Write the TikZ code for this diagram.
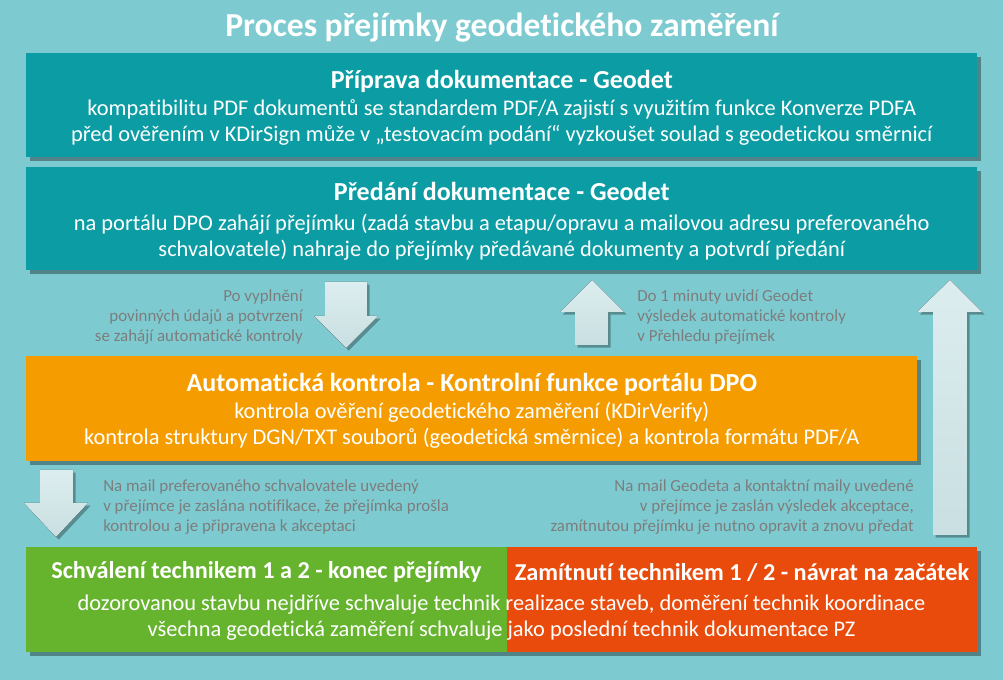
\documentclass[tikz,border=0pt]{standalone}
\usepackage{fontspec}
\setmainfont{Carlito}[Ligatures=NoCommon]
\usetikzlibrary{shadows}
\definecolor{bgc}{HTML}{7DCBD1}
\definecolor{tealc}{HTML}{0C9CA4}
\definecolor{orangec}{HTML}{F59D00}
\definecolor{greenc}{HTML}{66B32E}
\definecolor{redc}{HTML}{E84B0B}
\definecolor{grayc}{HTML}{7D7D7D}
\definecolor{arrtop}{HTML}{DCEDEF}
\definecolor{arrbot}{HTML}{C9DFE1}
\newcommand{\boxtitlefont}{\fontsize{19.5}{22}\selectfont\bfseries}
\tikzset{
  boxsh/.style={drop shadow={shadow xshift=2.5pt,shadow yshift=-2.5pt,opacity=0.35,fill=black}},
  panel/.style={boxsh,inner sep=0pt,anchor=north west},
  boxtext/.style={inner sep=0pt,text=white,align=center,font=\fontsize{16.8}{19.5}\selectfont},
  note/.style={text=grayc,font=\fontsize{12.7}{15}\selectfont,inner sep=0pt},
  blockarrow/.style={top color=arrtop,bottom color=arrbot,draw=none,
     drop shadow={shadow xshift=2pt,shadow yshift=-2pt,opacity=0.3,fill=black}},
}
\begin{document}
\begin{tikzpicture}[x=0.75pt,y=-0.75pt]
\fill[bgc] (0,0) rectangle (1003,680);
\useasboundingbox (0,0) rectangle (1003,680);

\node[text=white,font=\fontsize{25.2}{28}\selectfont\bfseries,inner sep=0pt] (title) at (502,27.5) {Proces přejímky geodetického zaměření};

\node[panel,fill=tealc,minimum width=951*0.75pt,minimum height=104*0.75pt] (prep) at (26,53) {};
\node[boxtext] (preptext) at ([yshift=-2.2pt]prep.center)
 {{\boxtitlefont Příprava dokumentace - Geodet}\\[0.75pt]
  kompatibilitu PDF dokumentů se standardem PDF/A zajistí s využitím funkce Konverze PDFA\\
  před ověřením v KDirSign může v „testovacím podání“ vyzkoušet soulad s geodetickou směrnicí};

\node[panel,fill=tealc,minimum width=951*0.75pt,minimum height=103*0.75pt] (pred) at (26,167) {};
\node[boxtext] (predtext) at ([yshift=-1.6pt]pred.center)
 {{\boxtitlefont Předání dokumentace - Geodet}\\[3pt]
  na portálu DPO zahájí přejímku (zadá stavbu a etapu/opravu a mailovou adresu preferovaného\\
  schvalovatele) nahraje do přejímky předávané dokumenty a potvrdí předání};

\node[panel,fill=orangec,minimum width=891*0.75pt,minimum height=105*0.75pt] (auto) at (26,356) {};
\node[boxtext] (autotext) at ([yshift=-1.5pt]auto.center)
 {{\boxtitlefont Automatická kontrola - Kontrolní funkce portálu DPO}\\[0.75pt]
  kontrola ověření geodetického zaměření (KDirVerify)\\
  kontrola struktury DGN/TXT souborů (geodetická směrnice) a kontrola formátu PDF/A};

\node[panel,fill=greenc,minimum width=481*0.75pt,minimum height=105*0.75pt] (ok) at (26,547) {};
\node[panel,fill=redc,minimum width=470*0.75pt,minimum height=105*0.75pt] (rej) at (507,547) {};
\node[text=white,font=\fontsize{18.2}{21}\selectfont\bfseries,inner sep=0pt] (oktitle) at (266.5,572.5) {Schválení technikem 1 a 2 - konec přejímky};
\node[text=white,font=\fontsize{18.2}{21}\selectfont\bfseries,inner sep=0pt] (rejtitle) at (742,572.5) {Zamítnutí technikem 1 / 2 - návrat na začátek};
\node[boxtext] (bottomtext) at (501.5,617.5)
 {dozorovanou stavbu nejdříve schvaluje technik realizace staveb, doměření technik koordinace\\
  všechna geodetická zaměření schvaluje jako poslední technik dokumentace PZ};

% block arrows
\fill[blockarrow] (325,282) -- (367,282) -- (367,316) -- (378,316) -- (346,348) -- (314,316) -- (325,316) -- cycle;
\fill[blockarrow] (575,345) -- (608,345) -- (608,312) -- (624,312) -- (592,280) -- (560,312) -- (575,312) -- cycle;
\fill[blockarrow] (933,535) -- (967,535) -- (967,312) -- (982,312) -- (950,280) -- (917,312) -- (933,312) -- cycle;
\fill[blockarrow] (40,470) -- (73,470) -- (73,503) -- (88,503) -- (56,537) -- (24,503) -- (40,503) -- cycle;

\node[note,align=right,anchor=east] (n1) at (303,317)
 {Po vyplnění\\povinných údajů a potvrzení\\se zahájí automatické kontroly};
\node[note,align=left,anchor=west] (n2) at (637,317)
 {Do 1 minuty uvidí Geodet\\výsledek automatické kontroly\\v Přehledu přejímek};
\node[note,align=left,anchor=west] (n3) at (103,507)
 {Na mail preferovaného schvalovatele uvedený\\v přejímce je zaslána notifikace, že přejímka prošla\\kontrolou a je připravena k akceptaci};
\node[note,align=right,anchor=east] (n4) at (914,507)
 {Na mail Geodeta a kontaktní maily uvedené\\v přejímce je zaslán výsledek akceptace,\\zamítnutou přejímku je nutno opravit a znovu předat};
\end{tikzpicture}
\end{document}
